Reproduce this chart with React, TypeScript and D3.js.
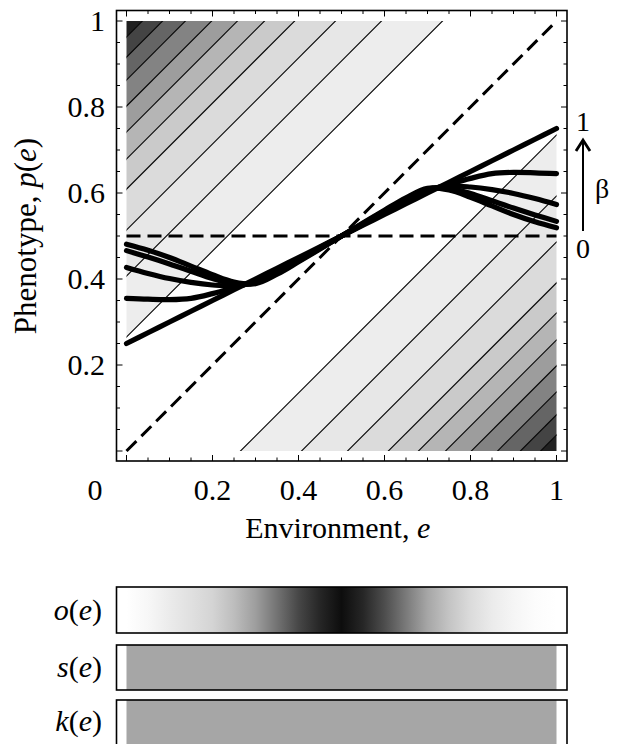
import React from "react";
import * as d3 from "d3";

// environment grid for the phenotype curves
const eGrid = [0, 0.05, 0.1, 0.15, 0.2, 0.25, 0.3, 0.35, 0.4, 0.45, 0.5,
  0.55, 0.6, 0.65, 0.7, 0.75, 0.8, 0.85, 0.9, 0.95, 1];

// phenotype curves p(e), one per beta value
const curveA = [0.481, 0.467, 0.450, 0.430, 0.410, 0.393, 0.389, 0.411, 0.440, 0.470, 0.500,
  0.530, 0.560, 0.589, 0.611, 0.607, 0.590, 0.570, 0.550, 0.533, 0.519];
const curveB = [0.466, 0.451, 0.435, 0.418, 0.401, 0.389, 0.391, 0.414, 0.442, 0.471, 0.500,
  0.529, 0.558, 0.586, 0.609, 0.611, 0.599, 0.582, 0.565, 0.549, 0.534];
const curveC = [0.427, 0.413, 0.401, 0.392, 0.386, 0.384, 0.393, 0.417, 0.444, 0.472, 0.500,
  0.528, 0.556, 0.583, 0.607, 0.616, 0.614, 0.608, 0.599, 0.587, 0.573];
const curveD = [0.355, 0.353, 0.352, 0.355, 0.366, 0.380, 0.395, 0.420, 0.446, 0.473, 0.500,
  0.527, 0.554, 0.580, 0.605, 0.620, 0.634, 0.645, 0.648, 0.647, 0.645];
const curveE = [0.250, 0.275, 0.300, 0.325, 0.350, 0.375, 0.400, 0.425, 0.450, 0.475, 0.500,
  0.525, 0.550, 0.575, 0.600, 0.625, 0.650, 0.675, 0.700, 0.725, 0.750];
const curves = [curveA, curveB, curveC, curveD, curveE];

// contour levels of |p - e|
const contourLevels = [0.265, 0.407, 0.514, 0.609, 0.679, 0.742, 0.802, 0.863, 0.916, 0.963];

// o(e) darkness along e
const oDarkness = [0, 0.03, 0.08, 0.12, 0.17, 0.26, 0.38, 0.55, 0.72, 0.85, 0.95,
  0.85, 0.7, 0.52, 0.35, 0.23, 0.14, 0.08, 0.04, 0.01, 0];
const sDarkness = 0.35;
const kDarkness = 0.35;

const xTicks = [0.2, 0.4, 0.6, 0.8, 1];
const xTickLabels = ["0.2", "0.4", "0.6", "0.8", "1"];
const yTicks = [0.2, 0.4, 0.6, 0.8, 1];
const yTickLabels = ["0.2", "0.4", "0.6", "0.8", "1"];

const W = 618, H = 744;
const FONT = "'Liberation Serif', 'Times New Roman', serif";

export default function App() {
  const x = d3.scaleLinear().domain([0, 1]).range([126.5, 556.5]);
  const y = d3.scaleLinear().domain([0, 1]).range([451, 21]);
  const fx0 = 116.5, fx1 = 567, fy0 = 10.5, fy1 = 461;

  const shade = (v: number) => d3.interpolateRgb("#ffffff", "#000000")(v);
  const nBands = contourLevels.length;
  // band darkness grows slowly near the white band, fast near the corners
  const bandDark = (i: number) => 0.07 + 0.8 * Math.pow((i - 1) / (nBands - 1), 1.6);

  const levels = [...contourLevels, 1.5];
  const strip = (a: number, b: number, sign: number) => {
    const pts = [[-1, -1 + sign * a], [2, 2 + sign * a], [2, 2 + sign * b], [-1, -1 + sign * b]];
    return pts.map(([e, p]) => `${x(e)},${y(p)}`).join(" ");
  };

  const line = d3.line<number>()
    .x((_, i) => x(eGrid[i]))
    .y(d => y(d))
    .curve(d3.curveCatmullRom);

  const minor = d3.range(0, 21).map(i => i / 20);
  const isMajor = (v: number) => Math.abs(v * 5 - Math.round(v * 5)) < 1e-6;

  const bars = [
    { label: "o", top: 587, bottom: 633, kind: "o", base: 620 },
    { label: "s", top: 645, bottom: 690, kind: "s", base: 677 },
    { label: "k", top: 700, bottom: 760, kind: "k", base: 731 },
  ];

  return (
    <svg width={W} height={H} style={{ position: "absolute", left: 0, top: 0, background: "#fff" }}
      fontFamily={FONT}>
      <defs>
        <clipPath id="plotClip">
          <rect x={x(0)} y={y(1)} width={x(1) - x(0)} height={y(0) - y(1)} />
        </clipPath>
        <linearGradient id="oGrad" x1="0" x2="1" y1="0" y2="0">
          {oDarkness.map((v, i) => (
            <stop key={i} offset={eGrid[i]} stopColor={shade(v)} />
          ))}
        </linearGradient>
      </defs>

      {/* contour bands */}
      <g clipPath="url(#plotClip)">
        {levels.slice(0, -1).map((a, i) => (
          <g key={i}>
            <polygon points={strip(a, levels[i + 1], 1)} fill={shade(bandDark(i + 1))} />
            <polygon points={strip(a, levels[i + 1], -1)} fill={shade(bandDark(i + 1))} />
          </g>
        ))}
        {contourLevels.map((a, i) => (
          <g key={"c" + i} stroke="#000" strokeWidth={1.1}>
            <line x1={x(-1)} y1={y(-1 + a)} x2={x(2)} y2={y(2 + a)} />
            <line x1={x(-1)} y1={y(-1 - a)} x2={x(2)} y2={y(2 - a)} />
          </g>
        ))}
      </g>

      {/* dashed reference lines */}
      <g stroke="#000" strokeWidth={3} strokeDasharray="14 7" fill="none">
        <line x1={x(0)} y1={y(0)} x2={x(1)} y2={y(1)} />
        <line x1={x(0)} y1={y(0.5)} x2={x(1)} y2={y(0.5)} />
      </g>

      {/* phenotype curves */}
      <g fill="none" stroke="#000" strokeWidth={5.2} strokeLinecap="round">
        {curves.map((c, i) => <path key={i} d={line(c) || ""} />)}
      </g>

      {/* frame */}
      <rect x={fx0} y={fy0} width={fx1 - fx0} height={fy1 - fy0} fill="none" stroke="#000" strokeWidth={1.6} />
      <g stroke="#000" strokeWidth={1}>
        {minor.map((v, i) => {
          const len = isMajor(v) ? 6 : 3.5;
          return (
            <g key={i}>
              <line x1={x(v)} x2={x(v)} y1={fy1} y2={fy1 - len} />
              <line x1={x(v)} x2={x(v)} y1={fy0} y2={fy0 + len} />
              <line y1={y(v)} y2={y(v)} x1={fx0} x2={fx0 + len} />
              <line y1={y(v)} y2={y(v)} x1={fx1} x2={fx1 - len} />
            </g>
          );
        })}
      </g>

      {/* tick labels */}
      <g fontSize={30} fill="#000">
        {xTicks.map((v, i) => (
          <text key={i} x={x(v)} y={500} textAnchor="middle">{xTickLabels[i]}</text>
        ))}
        <text x={95} y={500} textAnchor="middle">0</text>
        {yTicks.map((v, i) => (
          <text key={i} x={105} y={y(v) + 10} textAnchor="end">{yTickLabels[i]}</text>
        ))}
      </g>

      {/* axis titles */}
      <text x={(fx0 + fx1) / 2 - 4} y={538} textAnchor="middle" fontSize={30}>
        Environment, <tspan fontStyle="italic">e</tspan>
      </text>
      <text transform={`translate(36, ${y(0.5)}) rotate(-90)`} textAnchor="middle" fontSize={31}>
        Phenotype, <tspan fontStyle="italic">p</tspan>(<tspan fontStyle="italic">e</tspan>)
      </text>

      {/* beta annotation */}
      <g fontSize={28}>
        <text x={583} y={131} textAnchor="middle">1</text>
        <text x={583} y={258} textAnchor="middle">0</text>
        <text x={595} y={198}>β</text>
      </g>
      <line x1={583} y1={231} x2={583} y2={142} stroke="#000" strokeWidth={2} />
      <path d="M576,151 L583,140 L590,151" fill="none" stroke="#000" strokeWidth={2.8} />

      {/* o, s, k bars */}
      {bars.map(b => (
        <g key={b.kind}>
          {b.kind === "o" ? (
            <rect x={x(0)} y={b.top} width={x(1) - x(0)} height={b.bottom - b.top} fill="url(#oGrad)" />
          ) : (
            <rect x={x(0)} y={b.top} width={x(1) - x(0)} height={b.bottom - b.top}
              fill={shade(b.kind === "s" ? sDarkness : kDarkness)} />
          )}
          <rect x={fx0} y={b.top} width={fx1 - fx0} height={b.bottom - b.top} fill="none" stroke="#000" strokeWidth={1.6} />
          <text x={102} y={b.base} textAnchor="end" fontSize={30}>
            <tspan fontStyle="italic">{b.label}</tspan>(<tspan fontStyle="italic">e</tspan>)
          </text>
        </g>
      ))}
    </svg>
  );
}
